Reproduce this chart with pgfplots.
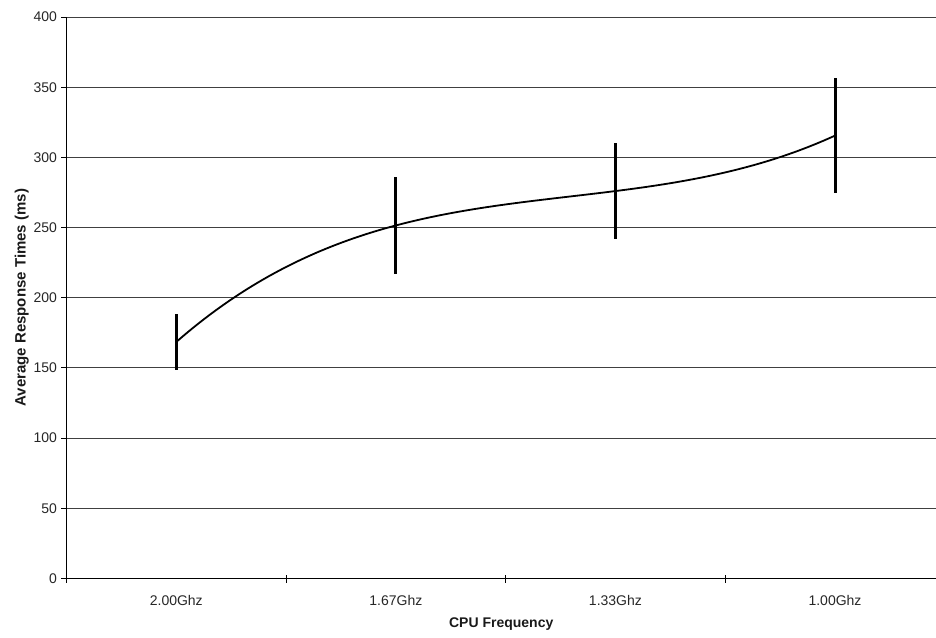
\documentclass[border=0pt]{standalone}
\usepackage{pgfplots}
\pgfplotsset{compat=1.18}
\usepgfplotslibrary{patchplots}
\usepackage{fontspec}
\setmainfont{Liberation Sans}
\begin{document}
\begin{tikzpicture}
\begin{axis}[
  scale only axis,
  width=869.5pt, height=561.5pt,
  xmin=-0.5, xmax=3.46,
  ymin=0, ymax=400,
  ytick={0,50,...,400},
  xtick={0,1,2,3},
  xticklabels={2.00Ghz,1.67Ghz,1.33Ghz,1.00Ghz},
  minor xtick={-0.5,0.5,1.5,2.5},
  axis lines*=left,
  axis line style={black, line width=0.9pt},
  tick align=outside,
  major tick length=5pt,
  minor tick length=8pt,
  xtick style={draw=none},
  minor x tick style={draw=black, line width=0.9pt, yshift=4pt},
  ytick style={black, line width=0.9pt},
  ymajorgrids,
  major grid style={black!75, line width=0.9pt},
  /pgf/number format/assume math mode=true,
  tick label style={font=\fontsize{14}{16}\selectfont, text=black!85},
  xticklabel style={yshift=-8pt},
  yticklabel style={xshift=-1pt},
  xlabel={\textbf{CPU Frequency}},
  ylabel={\textbf{Average Response Times (ms)}},
  xlabel style={font=\fontsize{14}{16}\selectfont, text=black!90, yshift=-6pt},
  ylabel style={font=\fontsize{15}{17}\selectfont, text=black!90, yshift=-2pt},
  colormap={allblack}{color=(black) color=(black)},
]
% cubic curve through the four means (order: left end, right end, 1/3, 2/3)
\addplot[patch, mesh, patch type=cubic spline, point meta=y, line width=1.8pt, line join=round]
  coordinates {
    (0,168.5)
    (3,315.5)
    (1,251.5)
    (2,276)
  };
% error bars
\addplot[draw=none, mark=none,
  error bars/.cd, y dir=both, y explicit, error mark=none,
  error bar style={line width=3pt, draw=black, solid}]
  coordinates {
    (0,168.5) +- (0,20)
    (1,251.5) +- (0,34.5)
    (2,276) +- (0,34.5)
    (3,315.5) +- (0,41)
  };
\end{axis}
\pgfresetboundingbox
\path[use as bounding box] ([xshift=-66.5pt,yshift=-58.5pt]current axis.south west) rectangle ([xshift=0pt,yshift=17pt]current axis.north east);
\end{tikzpicture}
\end{document}
